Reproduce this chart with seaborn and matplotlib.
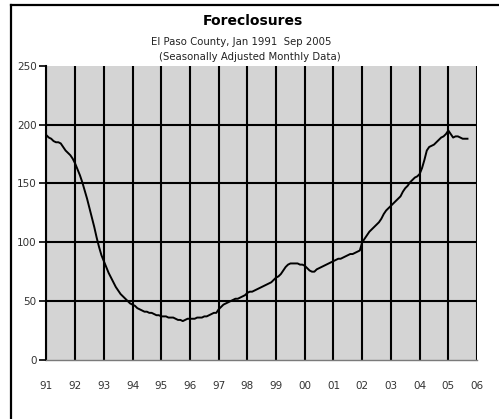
# Foreclosures - El Paso County, monthly seasonally adjusted
import matplotlib
matplotlib.use('Agg')
import matplotlib.pyplot as plt
from matplotlib.lines import Line2D
import pandas as pd
import seaborn as sns

# Monthly values (Jan 1991 - Sep 2005)
v1991 = [191, 189, 188, 186, 185, 185, 184, 181, 178, 176, 174, 171]
v1992 = [167, 162, 157, 151, 144, 137, 129, 121, 113, 104, 96, 89]
v1993 = [84, 79, 74, 70, 66, 62, 59, 56, 54, 52, 50, 48]
v1994 = [47, 46, 44, 43, 42, 41, 41, 40, 40, 39, 38, 38]
v1995 = [37, 37, 37, 36, 36, 36, 35, 34, 34, 33, 34, 35]
v1996 = [35, 35, 35, 36, 36, 36, 37, 37, 38, 39, 40, 40]
v1997 = [43, 45, 47, 48, 49, 50, 51, 52, 52, 53, 54, 55]
v1998 = [57, 58, 58, 59, 60, 61, 62, 63, 64, 65, 66, 68]
v1999 = [70, 71, 73, 76, 79, 81, 82, 82, 82, 82, 81, 81]
v2000 = [80, 78, 76, 75, 75, 77, 78, 79, 80, 81, 82, 83]
v2001 = [84, 85, 86, 86, 87, 88, 89, 90, 90, 91, 92, 93]
v2002 = [100, 103, 106, 109, 111, 113, 115, 117, 120, 124, 127, 129]
v2003 = [131, 133, 135, 137, 139, 143, 146, 148, 151, 153, 155, 156]
v2004 = [158, 163, 170, 178, 181, 182, 183, 185, 187, 189, 190, 192]
v2005 = [195, 192, 189, 190, 190, 189, 188, 188, 188]

values = (v1991 + v1992 + v1993 + v1994 + v1995 + v1996 + v1997 + v1998
          + v1999 + v2000 + v2001 + v2002 + v2003 + v2004 + v2005)

year_ticks = list(range(1991, 2007))
year_labels = ['91', '92', '93', '94', '95', '96', '97', '98', '99',
               '00', '01', '02', '03', '04', '05', '06']
y_ticks = [0, 50, 100, 150, 200, 250]

dates = pd.date_range('1991-01-01', periods=len(values), freq='MS')
df = pd.DataFrame({'year': dates.year + (dates.month - 1) / 12,
                   'foreclosures': values})

fig = plt.figure(figsize=(4.99, 4.19), dpi=100)
ax = fig.add_axes([0.093, 0.141, 0.863, 0.702])
ax.set_facecolor('#d4d4d4')

sns.lineplot(data=df, x='year', y='foreclosures', color='black',
             linewidth=1.4, ax=ax)

ax.set_xlim(1991, 2006)
ax.set_ylim(0, 250)
ax.set_xticks(year_ticks)
ax.set_xticklabels(year_labels, fontsize=7.5, color='#333333')
ax.set_yticks(y_ticks)
ax.set_yticklabels([str(t) for t in y_ticks], fontsize=7.5, color='#333333')
ax.tick_params(axis='x', length=0, pad=15)
ax.tick_params(axis='y', length=5, width=1.2, pad=2, color='black')
ax.set_xlabel('')
ax.set_ylabel('')

ax.grid(True, color='black', linewidth=1.5)
ax.set_axisbelow(True)
ax.yaxis.get_gridlines()[-1].set_visible(False)
ax.yaxis.get_gridlines()[0].set_visible(False)

for s in ['top', 'right']:
    ax.spines[s].set_visible(False)
ax.spines['left'].set_color('black')
ax.spines['left'].set_linewidth(1.5)
ax.spines['bottom'].set_color('#7a7a7a')
ax.spines['bottom'].set_linewidth(1.0)

# Titles
fig.text(0.507, 1 - 21 / 419, 'Foreclosures', ha='center', va='center',
         fontsize=10, fontweight='bold')
fig.text(0.483, 1 - 42 / 419, 'El Paso County, Jan 1991  Sep 2005',
         ha='center', va='center', fontsize=7.3, color='#222222')
fig.text(0.500, 1 - 57 / 419, '(Seasonally Adjusted Monthly Data)',
         ha='center', va='center', fontsize=7.3, color='#222222')

# Outer frame (top and left edges visible)
fig.add_artist(Line2D([11 / 499, 1.0], [1 - 5 / 419, 1 - 5 / 419],
                      transform=fig.transFigure, color='black', linewidth=1.6))
fig.add_artist(Line2D([11 / 499, 11 / 499], [0.0, 1 - 5 / 419],
                      transform=fig.transFigure, color='black', linewidth=1.6))

fig.savefig('out.png', dpi=100)
